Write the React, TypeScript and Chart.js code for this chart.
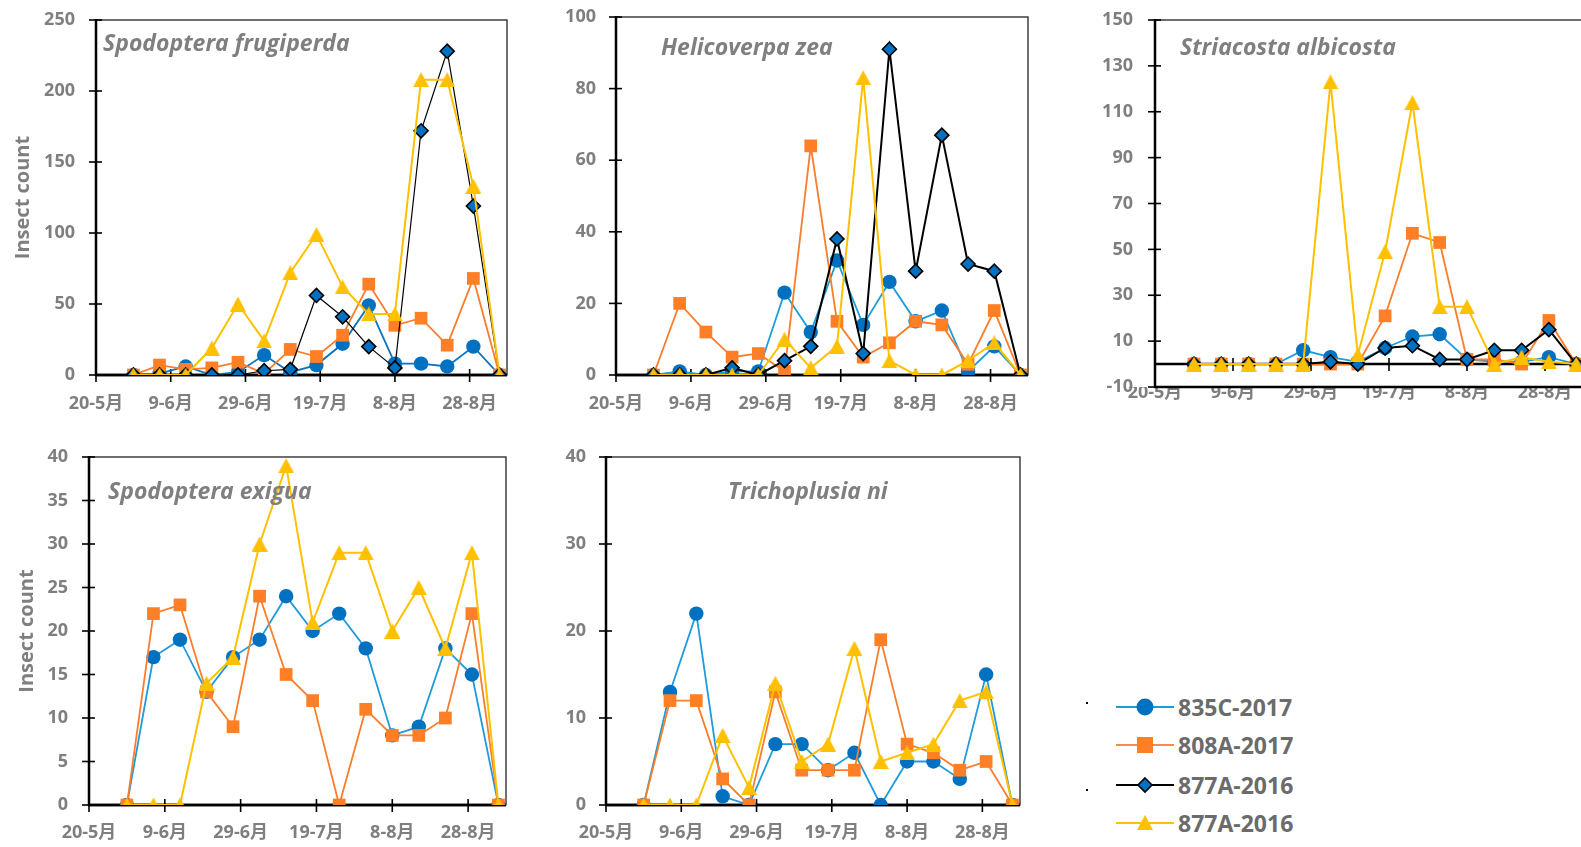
import React, { useEffect, useRef } from 'react';
import { Chart, registerables } from 'chart.js';
Chart.register(...registerables);

// ---------- data ----------
const dates = ['30-5', '6-6', '13-6', '20-6', '27-6', '4-7', '11-7', '18-7', '25-7', '1-8', '8-8', '15-8', '22-8', '29-8', '5-9'];
const xTickLabels = ['20-5月', '9-6月', '29-6月', '19-7月', '8-8月', '28-8月'];
const seriesNames = ['835C-2017', '808A-2017', '877A-2016', '877A-2016'];

// Spodoptera frugiperda
const sfBlue = [0, 1, 6, 0, 2, 14, 2, 7, 22, 49, 8, 8, 6, 20, 0];
const sfOrange = [0, 7, 4, 5, 9, 1, 18, 13, 28, 64, 35, 40, 21, 68, 0];
const sfBlack = [0, 0, 0, 0, 0, 3, 4, 56, 41, 20, 5, 172, 228, 119, 0];
const sfYellow = [0, 0, 0, 19, 50, 24, 72, 99, 62, 43, 43, 208, 208, 133, 0];

// Helicoverpa zea
const hzBlue = [0, 1, 0, 1, 1, 23, 12, 32, 14, 26, 15, 18, 1, 8, 0];
const hzOrange = [0, 20, 12, 5, 6, 1, 64, 15, 5, 9, 15, 14, 3, 18, 0];
const hzBlack = [0, 0, 0, 2, 0, 4, 8, 38, 6, 91, 29, 67, 31, 29, 0];
const hzYellow = [0, 0, 0, 0, 0, 10, 2, 8, 83, 4, 0, 0, 4, 9, 0];

// Striacosta albicosta
const saBlue = [0, 0, 0, 0, 6, 3, 1, 7, 12, 13, 2, 1, 1, 3, 0];
const saOrange = [0, 0, 0, 0, 0, 0, 0, 21, 57, 53, 2, 2, 0, 19, 0];
const saBlack = [0, 0, 0, 0, 0, 1, 0, 7, 8, 2, 2, 6, 6, 15, 0];
const saYellow = [0, 0, 0, 0, 0, 123, 4, 49, 114, 25, 25, 0, 3, 1, 0];

// Spodoptera exigua
const seBlue = [0, 17, 19, 13, 17, 19, 24, 20, 22, 18, 8, 9, 18, 15, 0];
const seOrange = [0, 22, 23, 13, 9, 24, 15, 12, 0, 11, 8, 8, 10, 22, 0];
const seYellow = [0, 0, 0, 14, 17, 30, 39, 21, 29, 29, 20, 25, 18, 29, 0];

// Trichoplusia ni
const tnBlue = [0, 13, 22, 1, 0, 7, 7, 4, 6, 0, 5, 5, 3, 15, 0];
const tnOrange = [0, 12, 12, 3, 0, 13, 4, 4, 4, 19, 7, 6, 4, 5, 0];
const tnYellow = [0, 0, 0, 8, 2, 14, 5, 7, 18, 5, 6, 7, 12, 13, 0];

// ---------- helpers ----------
const FONT = '"Open Sans", "Noto Sans", "Noto Sans CJK SC", sans-serif';
const GRAY = '#7f7f7f';

function dayOffset(s: string) {
  const [d, m] = s.split('-').map(Number);
  return Math.round((Date.UTC(2017, m - 1, d) - Date.UTC(2017, 4, 20)) / 86400000);
}
const xDays = dates.map(dayOffset);
const toPts = (vals: number[]) => vals.map((v, i) => ({ x: xDays[i], y: v }));

// Excel-like triangle marker (centred on its bounding box)
function makeTriangle(): HTMLCanvasElement | string {
  if (typeof document === 'undefined') return 'triangle';
  const c = document.createElement('canvas');
  c.width = 16; c.height = 15;
  const g = c.getContext('2d');
  if (!g) return 'triangle';
  g.fillStyle = '#ffc000';
  g.beginPath(); g.moveTo(8, 0); g.lineTo(16, 15); g.lineTo(0, 15); g.closePath(); g.fill();
  return c;
}
const triangleMarker = makeTriangle();

function blueDs(vals: number[], line: string) {
  return {
    label: seriesNames[0], data: toPts(vals), order: 4,
    borderColor: line, borderWidth: 1.8,
    pointStyle: 'circle', pointRadius: 7.2,
    pointBackgroundColor: '#0070c0', pointBorderColor: '#0070c0', pointBorderWidth: 0,
  };
}
function orangeDs(vals: number[]) {
  return {
    label: seriesNames[1], data: toPts(vals), order: 3,
    borderColor: '#fb7d2c', borderWidth: 1.8,
    pointStyle: 'rect', pointRadius: 9,
    pointBackgroundColor: '#ff7f27', pointBorderColor: '#ff7f27', pointBorderWidth: 0,
  };
}
function blackDs(vals: number[], w: number) {
  return {
    label: seriesNames[2], data: toPts(vals), order: 2,
    borderColor: '#000000', borderWidth: w,
    pointStyle: 'rectRot', pointRadius: 7,
    pointBackgroundColor: '#0070c0', pointBorderColor: '#000000', pointBorderWidth: 1.6,
  };
}
function yellowDs(vals: number[]) {
  return {
    label: seriesNames[3], data: toPts(vals), order: 1,
    borderColor: '#ffc000', borderWidth: 2,
    pointStyle: triangleMarker, pointRadius: 8,
    pointBackgroundColor: '#ffc000', pointBorderColor: '#ffc000', pointBorderWidth: 0,
  };
}

const excelFrame = {
  id: 'excelFrame',
  beforeDatasetsDraw(chart: any, _args: any, opts: any) {
    const { ctx, chartArea, scales } = chart;
    const { left, right, top, bottom } = chartArea;
    const x = scales.x, y = scales.y;
    const line = (x1: number, y1: number, x2: number, y2: number) => {
      ctx.beginPath(); ctx.moveTo(x1, y1); ctx.lineTo(x2, y2); ctx.stroke();
    };
    ctx.save();
    ctx.strokeStyle = '#222';
    ctx.lineWidth = 1.3;
    ctx.strokeRect(left, top, right - left, bottom - top);
    ctx.strokeStyle = '#000';
    ctx.lineWidth = 2.5;
    line(left, top - 1, left, bottom + 1);
    line(left - 1, bottom, right, bottom);
    const cy = y.getPixelForValue(opts.cross);
    line(left, cy, right, cy);
    ctx.lineWidth = 1.6;
    y.ticks.forEach((t: any) => {
      const py = y.getPixelForValue(t.value);
      line(left - 7, py, left + 6, py);
    });
    x.ticks.forEach((t: any) => {
      const px = x.getPixelForValue(t.value);
      line(px, cy - 6, px, cy + 7);
    });
    ctx.restore();
  },
  afterDatasetsDraw(chart: any, _args: any, opts: any) {
    const { ctx, chartArea } = chart;
    ctx.save();
    ctx.fillStyle = GRAY;
    ctx.font = 'italic bold 23px ' + FONT;
    ctx.textBaseline = 'alphabetic';
    ctx.textAlign = 'left';
    ctx.fillText(opts.title, chartArea.left + opts.dx, chartArea.top + opts.dy);
    ctx.restore();
  },
};

type PanelCfg = {
  left: number; top: number; width: number; height: number;
  yW: number; xH: number; padTop: number; padRight: number;
  yMin: number; yMax: number; yStep: number; cross: number;
  xPad: number; yPad: number;
  title: string; dx: number; dy: number;
  yTitle?: boolean; yTitlePad?: number;
  datasets: any[];
};

const panels: PanelCfg[] = [
  {
    left: 0, top: 0, width: 520, height: 425, yW: 96, xH: 50, padTop: 20, padRight: 13,
    yMin: 0, yMax: 250, yStep: 50, cross: 0, xPad: 18, yPad: 21,
    title: 'Spodoptera frugiperda', dx: 7, dy: 31, yTitle: true, yTitlePad: 11,
    datasets: [blueDs(sfBlue, '#0a72c2'), orangeDs(sfOrange), blackDs(sfBlack, 1.2), yellowDs(sfYellow)],
  },
  {
    left: 520, top: 0, width: 530, height: 425, yW: 96, xH: 50, padTop: 17, padRight: 22,
    yMin: 0, yMax: 100, yStep: 20, cross: 0, xPad: 18, yPad: 20,
    title: 'Helicoverpa zea', dx: 45, dy: 38,
    datasets: [blueDs(hzBlue, '#1f9bd9'), orangeDs(hzOrange), blackDs(hzBlack, 2), yellowDs(hzYellow)],
  },
  {
    left: 1060, top: 0, width: 540, height: 425, yW: 95, xH: 38, padTop: 20, padRight: 16,
    yMin: -10, yMax: 150, yStep: 20, cross: 0, xPad: -4.5, yPad: 22,
    title: 'Striacosta albicosta', dx: 25, dy: 35,
    datasets: [blueDs(saBlue, '#1f9bd9'), orangeDs(saOrange), blackDs(saBlack, 2), yellowDs(saYellow)],
  },
  {
    left: 0, top: 430, width: 520, height: 417, yW: 89, xH: 42, padTop: 27, padRight: 14,
    yMin: 0, yMax: 40, yStep: 5, cross: 0, xPad: 17, yPad: 21,
    title: 'Spodoptera exigua', dx: 19, dy: 42, yTitle: true, yTitlePad: 15,
    datasets: [blueDs(seBlue, '#1f9bd9'), orangeDs(seOrange), yellowDs(seYellow)],
  },
  {
    left: 520, top: 430, width: 530, height: 417, yW: 86, xH: 42, padTop: 27, padRight: 30,
    yMin: 0, yMax: 40, yStep: 10, cross: 0, xPad: 17, yPad: 20,
    title: 'Trichoplusia ni', dx: 122, dy: 42,
    datasets: [blueDs(tnBlue, '#1f9bd9'), orangeDs(tnOrange), yellowDs(tnYellow)],
  },
];

function Panel({ cfg }: { cfg: PanelCfg }) {
  const ref = useRef<HTMLCanvasElement | null>(null);
  useEffect(() => {
    if (!ref.current) return;
    const chart = new Chart(ref.current, {
      type: 'line',
      data: { datasets: cfg.datasets },
      plugins: [excelFrame],
      options: {
        animation: false,
        responsive: false,
        maintainAspectRatio: false,
        layout: { autoPadding: false, padding: { top: cfg.padTop, right: cfg.padRight, left: 0, bottom: 0 } },
        plugins: {
          legend: { display: false },
          tooltip: { enabled: false },
          excelFrame: { cross: cfg.cross, title: cfg.title, dx: cfg.dx, dy: cfg.dy },
        } as any,
        scales: {
          x: {
            type: 'linear', min: 0, max: 110,
            grid: { display: false, drawTicks: false },
            border: { display: false },
            ticks: {
              stepSize: 20, includeBounds: false, autoSkip: false, maxRotation: 0, minRotation: 0,
              padding: cfg.xPad, color: GRAY,
              font: { family: FONT, size: 18, weight: 'bold' },
              callback: (v: any) => xTickLabels[Math.round(Number(v) / 20)] ?? '',
            },
            afterFit: (s: any) => {
              s.height = cfg.xH;
              s.paddingLeft = 0; s.paddingRight = 0; s.paddingTop = 0; s.paddingBottom = 0;
            },
          },
          y: {
            type: 'linear', min: cfg.yMin, max: cfg.yMax,
            grid: { display: false, drawTicks: false },
            border: { display: false },
            ticks: {
              stepSize: cfg.yStep, padding: cfg.yPad, color: GRAY,
              font: { family: FONT, size: 18, weight: 'bold' },
            },
            title: {
              display: !!cfg.yTitle, text: 'Insect count', color: GRAY,
              font: { family: FONT, size: 20, weight: 'bold' },
              padding: { top: cfg.yTitlePad ?? 0, bottom: 0 },
            },
            afterFit: (s: any) => {
              s.width = cfg.yW;
              s.paddingLeft = 0; s.paddingRight = 0; s.paddingTop = 0; s.paddingBottom = 0;
            },
          },
        },
      } as any,
    });
    return () => chart.destroy();
  }, [cfg]);
  return (
    <canvas
      ref={ref}
      width={cfg.width}
      height={cfg.height}
      style={{ position: 'absolute', left: cfg.left, top: cfg.top, width: cfg.width, height: cfg.height, display: 'block' }}
    />
  );
}

const legendY = [707, 745, 785, 823];

function Marker({ i }: { i: number }) {
  const cx = 30, cy = 12;
  const lineColors = ['#1f9bd9', '#fb8a4a', '#000000', '#ffc000'];
  let shape: React.ReactNode = null;
  if (i === 0) shape = <circle cx={cx} cy={cy} r={8.5} fill="#0070c0" />;
  if (i === 1) shape = <rect x={cx - 8} y={cy - 8} width={16} height={16} fill="#ff7f27" />;
  if (i === 2) shape = <polygon points={`${cx},${cy - 7} ${cx + 7},${cy} ${cx},${cy + 7} ${cx - 7},${cy}`} fill="#0070c0" stroke="#000" strokeWidth={1.6} />;
  if (i === 3) shape = <polygon points={`${cx},${cy - 8} ${cx + 8},${cy + 7} ${cx - 8},${cy + 7}`} fill="#ffc000" />;
  return (
    <svg width={60} height={24} style={{ position: 'absolute', left: 1115, top: legendY[i] - 12 }}>
      <line x1={1} y1={cy} x2={59} y2={cy} stroke={lineColors[i]} strokeWidth={2} />
      {shape}
    </svg>
  );
}

export default function App() {
  return (
    <div style={{ position: 'fixed', left: 0, top: 0, width: 1581, height: 847, overflow: 'hidden', background: '#fff' }}>
      {panels.map((p, i) => <Panel key={i} cfg={p} />)}
      {seriesNames.map((n, i) => (
        <React.Fragment key={i}>
          <Marker i={i} />
          <div style={{
            position: 'absolute', left: 1178, top: legendY[i] - 16, height: 32, lineHeight: '32px',
            fontFamily: FONT, fontWeight: 'bold', fontSize: 23, color: '#6b6b6b', whiteSpace: 'nowrap',
          }}>{n}</div>
        </React.Fragment>
      ))}
      <div style={{ position: 'absolute', left: 1086, top: 702, width: 2, height: 2, background: '#000' }} />
      <div style={{ position: 'absolute', left: 1086, top: 789, width: 2, height: 2, background: '#000' }} />
    </div>
  );
}
